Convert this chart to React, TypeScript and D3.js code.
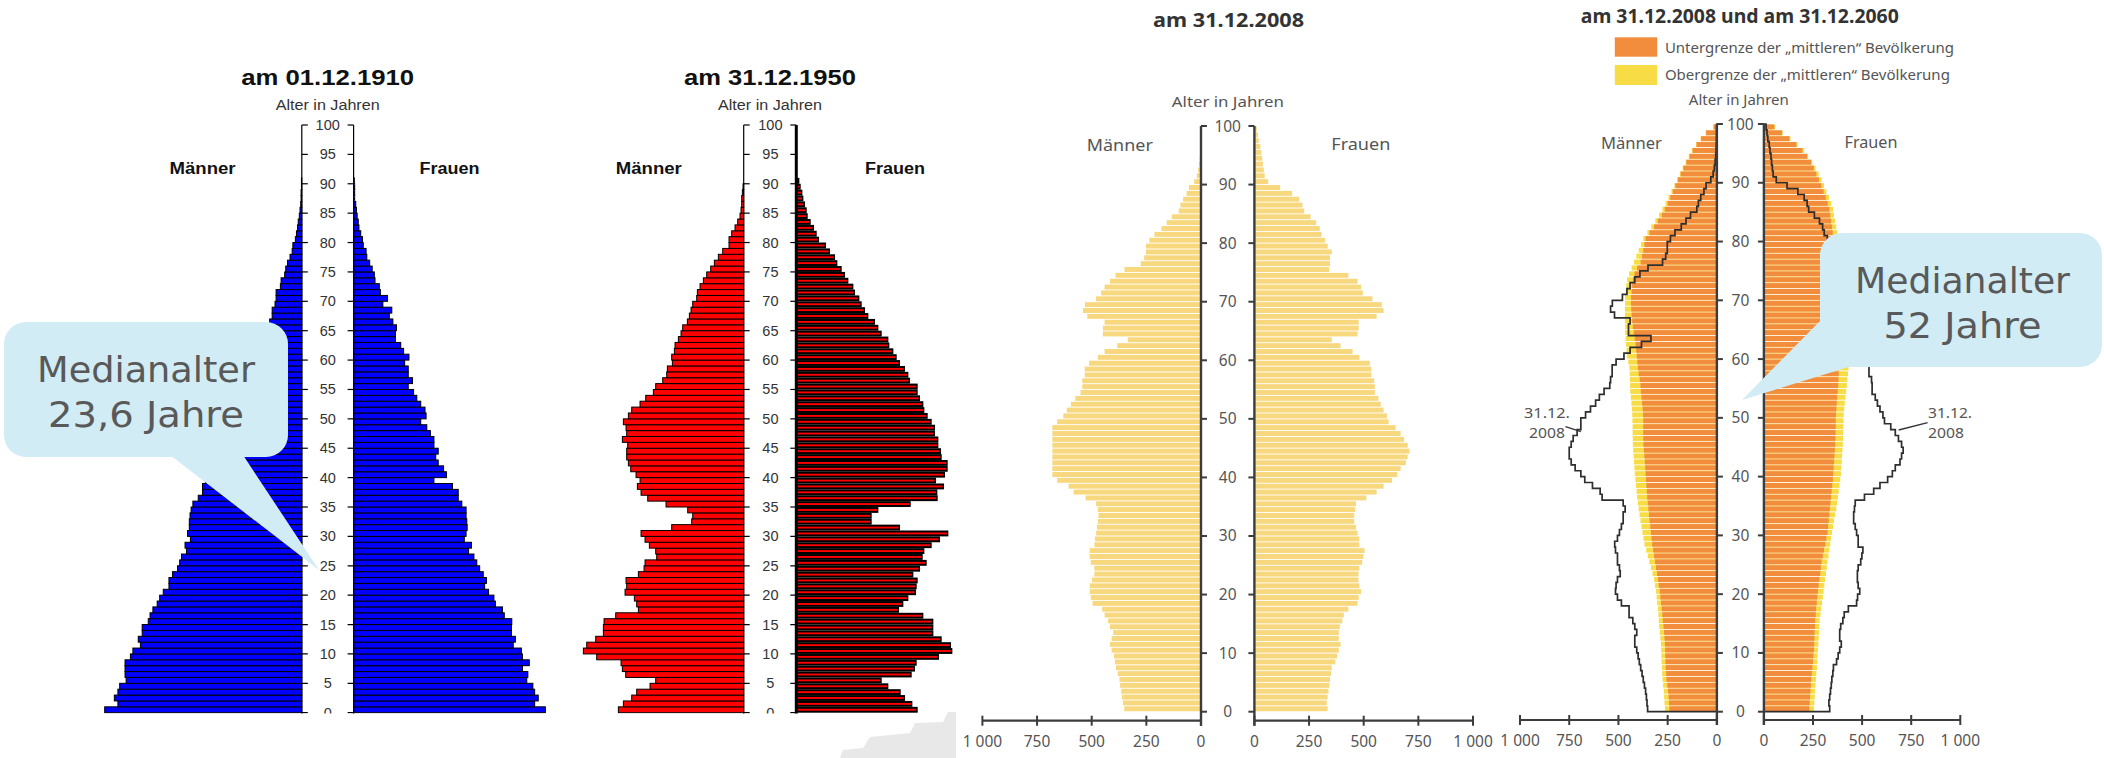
import React from "react";
import * as d3 from "d3";

// ---- data: population by single year of age (index = age) ----
// 1910 / 1950: relative widths (no x axis in the original)
const m1910 = [552,515,525,515,510,492,495,495,495,480,473,452,458,447,447,430,425,417,405,398,388,372,372,362,348,342,337,323,327,312,320,315,315,313,310,305,290,278,278,270,262,255,250,245,238,232,225,218,212,205,198,190,182,175,168,160,153,146,140,133,127,120,113,107,100,95,90,83,83,75,72,72,60,58,48,45,40,33,27,25,18,15,12,10,7,5,3,2,2,1,1];
const f1910 = [537,507,517,507,502,485,488,473,492,473,470,447,453,442,442,443,422,417,397,393,378,367,372,363,353,345,337,322,330,310,315,318,317,315,315,303,293,293,277,225,260,252,237,230,237,225,225,215,205,188,203,200,188,177,168,153,165,153,153,143,155,140,132,117,117,120,110,100,107,82,95,75,72,60,58,52,45,37,35,27,25,20,15,13,10,8,6,3,3,3,2];
const m1950 = [376,361,336,321,281,264,354,364,368,441,481,471,444,421,421,419,384,316,321,328,356,351,353,316,299,296,261,264,283,296,308,216,156,153,168,233,288,308,319,311,323,339,346,351,351,348,364,351,353,361,346,336,311,294,271,264,243,231,229,214,216,208,206,196,188,183,169,163,158,153,141,139,131,121,111,99,88,76,63,44,44,36,26,18,11,8,6,6,4,2];
const f1950 = [366,350,328,315,278,258,348,358,363,430,470,466,438,413,413,413,383,310,323,338,361,363,366,353,373,393,381,386,408,433,458,313,228,228,248,345,426,425,445,421,448,456,456,438,436,428,428,418,418,408,396,386,383,373,366,366,343,338,328,313,303,293,281,278,258,248,238,218,208,198,191,178,173,158,148,138,125,118,103,91,70,63,55,45,36,33,28,23,20,15,11];
// 2008 (thousands)
const m2008 = [351,357,362,365,370,373,381,389,394,398,409,417,409,402,417,425,441,452,496,504,509,509,499,488,488,504,509,509,488,485,480,476,472,469,472,480,528,583,606,658,680,680,680,680,680,680,680,680,680,658,630,614,595,575,551,543,543,532,532,512,472,441,383,335,449,449,441,520,540,531,480,457,441,417,391,350,276,260,252,252,236,213,181,157,134,102,94,82,66,55,31,19,13,9,6,4,3,2,2,1];
const f2008 = [335,331,335,339,343,346,351,354,370,378,386,394,386,386,391,402,409,430,472,477,488,480,476,476,480,493,499,504,480,480,472,465,457,457,461,465,512,559,591,630,654,669,693,701,709,701,685,669,646,614,606,591,578,567,551,551,548,535,535,528,480,449,394,354,472,477,477,559,591,583,540,496,488,472,430,342,346,346,354,335,323,307,299,283,257,228,220,205,173,118,63,47,43,39,36,31,27,20,16,11];
const m2008line = [352,355,358,362,368,374,380,387,394,400,407,417,417,407,417,427,446,446,485,505,515,512,505,491,495,505,505,515,519,505,495,485,476,476,466,476,583,593,632,671,691,720,740,750,750,740,730,710,691,691,667,642,616,597,573,544,540,532,532,512,472,441,383,335,449,449,441,520,540,531,480,457,441,417,391,350,276,260,252,252,236,213,181,157,134,102,94,82,66,55,31,19,13,9,6,4,3,2,2,1];
// 2060 projection (thousands): lower / upper limit of "mittlere" Bevölkerung
const m2060lo = [241,243,245,248,252,256,258,260,261,262,263,264,266,268,271,274,277,280,284,287,290,295,299,304,309,314,319,324,329,332,335,338,342,345,348,351,354,356,358,360,362,364,366,368,371,373,374,374,374,374,375,377,380,383,386,388,392,397,401,404,407,410,413,417,422,427,430,433,435,436,436,433,430,427,418,405,387,380,374,368,362,342,319,300,280,265,250,237,224,211,198,184,170,155,139,123,103,80,55,16];
const m2060hi = [264,266,268,270,273,276,278,279,281,282,283,284,287,290,293,295,297,299,303,306,309,314,319,327,335,343,351,359,368,373,378,383,388,393,397,401,405,408,411,414,417,419,421,423,425,427,427,428,428,429,430,432,434,437,440,441,442,443,445,450,456,459,462,464,466,466,467,467,467,466,466,463,460,456,446,433,421,409,397,385,374,353,333,313,294,277,260,246,231,216,202,188,174,159,143,127,106,83,57,20];
const f2060lo = [231,233,235,237,239,241,244,247,250,252,255,256,257,258,260,261,264,266,269,272,275,279,283,287,290,294,300,306,312,318,324,327,330,333,336,339,342,345,348,351,353,355,357,359,361,363,364,365,366,366,367,369,371,373,376,378,380,381,382,384,386,389,392,395,398,401,404,406,408,410,411,412,412,411,409,405,400,393,384,368,353,350,347,342,338,333,325,315,304,292,280,267,254,241,220,196,165,130,92,53];
const f2060hi = [255,257,259,261,263,265,267,270,272,273,275,277,279,281,282,284,288,292,296,300,304,308,312,316,320,324,329,333,338,342,347,352,357,363,368,373,377,381,385,389,392,394,396,398,400,402,403,404,405,405,406,409,412,415,419,422,425,428,431,434,437,441,445,449,452,455,458,460,462,463,463,462,460,457,452,445,436,425,410,395,380,374,368,362,357,353,343,331,318,306,294,279,263,246,225,205,172,135,96,58];

const ageTicks5 = [0,5,10,15,20,25,30,35,40,45,50,55,60,65,70,75,80,85,90,95,100];
const ageTicks10 = [0,10,20,30,40,50,60,70,80,90,100];
const popTicks = [0,250,500,750,1000];
const popLabel = (v: number) => (v === 1000 ? "1 000" : String(v));

const FA = "'Liberation Sans', Arial, Helvetica, sans-serif";
const FB = "'Noto Sans', 'Open Sans', sans-serif";
const FC = "'DejaVu Sans', Verdana, sans-serif";

// scales
const y12 = d3.scaleLinear().domain([0, 100]).range([712.7, 125]);
const y3 = d3.scaleLinear().domain([0, 100]).range([711.7, 126]);
const y4 = d3.scaleLinear().domain([0, 100]).range([711.7, 124]);
const xL1 = d3.scaleLinear().domain([0, 1000]).range([301.8, 301.8 - 357.1]);
const xR1 = d3.scaleLinear().domain([0, 1000]).range([353.6, 353.6 + 357.1]);
const xL2 = d3.scaleLinear().domain([0, 1000]).range([743.7, 743.7 - 333.3]);
const xR2 = d3.scaleLinear().domain([0, 1000]).range([795.7, 795.7 + 333.3]);
const xL3 = d3.scaleLinear().domain([0, 1000]).range([1201, 982.4]);
const xR3 = d3.scaleLinear().domain([0, 1000]).range([1254.4, 1473]);
const xL4 = d3.scaleLinear().domain([0, 1000]).range([1716.9, 1520]);
const xR4 = d3.scaleLinear().domain([0, 1000]).range([1763.9, 1960.3]);

function stepPath(vals: number[], xs: d3.ScaleLinear<number, number>, ys: d3.ScaleLinear<number, number>) {
  const pts: [number, number][] = [[xs(0), ys(0)]];
  vals.forEach((v, i) => {
    pts.push([xs(v), ys(i)]);
    pts.push([xs(v), ys(i + 1)]);
  });
  pts.push([xs(0), ys(vals.length)]);
  return d3.line()(pts) || "";
}

function Bars({ vals, xs, ys, fill, stroke, sw, gap }: any) {
  return (
    <g>
      {vals.map((v: number, i: number) => {
        const x0 = xs(0), x1 = xs(v);
        const top = ys(i + 1), bot = ys(i);
        return (
          <rect key={i} x={Math.min(x0, x1)} y={top + gap / 2} width={Math.abs(x1 - x0)} height={bot - top - gap}
            fill={fill} stroke={stroke || "none"} strokeWidth={sw || 0} />
        );
      })}
    </g>
  );
}

function OldAxis({ xl, xr, cx, thickRight }: any) {
  return (
    <g>
      <line x1={xl} x2={xl} y1={y12(100)} y2={716} stroke="#000" strokeWidth={1.2} />
      <line x1={xr} x2={xr} y1={y12(100)} y2={716} stroke="#000" strokeWidth={thickRight ? 3 : 1.2} />
      {ageTicks5.map((a) => (
        <g key={a}>
          <line x1={xl} x2={xl + 6} y1={y12(a)} y2={y12(a)} stroke="#000" strokeWidth={1.2} />
          <line x1={xr - 6} x2={xr} y1={y12(a)} y2={y12(a)} stroke="#000" strokeWidth={1.2} />
          <text x={cx} y={y12(a) + 5} textAnchor="middle" fontFamily={FA} fontSize={14.5} fill="#333">{a}</text>
        </g>
      ))}
    </g>
  );
}

function NewAxis({ xl, xr, cx, ys, yAx, xsL, xsR }: any) {
  const col = "#3c3c3c";
  return (
    <g>
      <line x1={xl} x2={xl} y1={ys(100)} y2={yAx + 5} stroke={col} strokeWidth={2.4} />
      <line x1={xr} x2={xr} y1={ys(100)} y2={yAx + 5} stroke={col} strokeWidth={2.4} />
      {ageTicks10.map((a) => (
        <g key={a}>
          <line x1={xl} x2={xl + 6} y1={ys(a)} y2={ys(a)} stroke={col} strokeWidth={2} />
          <line x1={xr - 6} x2={xr} y1={ys(a)} y2={ys(a)} stroke={col} strokeWidth={2} />
          <text x={cx} y={ys(a) + 5.5} textAnchor="middle" fontFamily={FB} fontSize={15.5} fill="#555">{a}</text>
        </g>
      ))}
      <line x1={xsL(1000)} x2={xsL(0)} y1={yAx} y2={yAx} stroke={col} strokeWidth={2.2} />
      <line x1={xsR(0)} x2={xsR(1000)} y1={yAx} y2={yAx} stroke={col} strokeWidth={2.2} />
      {popTicks.map((v) => (
        <g key={v}>
          <line x1={xsL(v)} x2={xsL(v)} y1={yAx - 5} y2={yAx + 5} stroke={col} strokeWidth={2} />
          <line x1={xsR(v)} x2={xsR(v)} y1={yAx - 5} y2={yAx + 5} stroke={col} strokeWidth={2} />
          <text x={xsL(v)} y={yAx + 26} textAnchor="middle" fontFamily={FB} fontSize={15.5} fill="#555">{popLabel(v)}</text>
          <text x={xsR(v)} y={yAx + 26} textAnchor="middle" fontFamily={FB} fontSize={15.5} fill="#555">{popLabel(v)}</text>
        </g>
      ))}
    </g>
  );
}

function Callout({ box, tail, l1, l2, cx, b1, b2, w1, w2 }: any) {
  return (
    <g>
      <polygon points={tail.map((p: number[]) => p.join(",")).join(" ")} fill="#d1ecf5" />
      <rect x={box[0]} y={box[1]} width={box[2]} height={box[3]} rx={22} fill="#d1ecf5" />
      <text x={cx} y={b1} textAnchor="middle" fontFamily={FC} fontSize={36} fill="#595959" textLength={w1} lengthAdjust="spacingAndGlyphs">{l1}</text>
      <text x={cx} y={b2} textAnchor="middle" fontFamily={FC} fontSize={36} fill="#595959" textLength={w2} lengthAdjust="spacingAndGlyphs">{l2}</text>
    </g>
  );
}

export default function App() {
  const title = (x: number, y: number, t: string, w: number, fam: string, size: number, col: string) => (
    <text x={x} y={y} textAnchor="middle" fontFamily={fam} fontWeight="bold" fontSize={size} fill={col} textLength={w} lengthAdjust="spacingAndGlyphs">{t}</text>
  );
  const lbl = (x: number, y: number, t: string, w: number, fam: string, size: number, col: string, bold = false) => (
    <text x={x} y={y} textAnchor="middle" fontFamily={fam} fontWeight={bold ? "bold" : "normal"} fontSize={size} fill={col} textLength={w} lengthAdjust="spacingAndGlyphs">{t}</text>
  );

  return (
    <svg width={2104} height={758} style={{ position: "absolute", left: 0, top: 0, background: "#fff" }}>
      <defs>
        <clipPath id="clipOld"><rect x={0} y={0} width={1000} height={713.5} /></clipPath>
      </defs>
      <rect x={0} y={0} width={2104} height={758} fill="#fff" />

      {/* ---------- Panel 1: 1910 ---------- */}
      {title(327.7, 85, "am 01.12.1910", 173, FA, 22, "#111")}
      {lbl(327.7, 110, "Alter in Jahren", 104, FA, 14, "#333")}
      {lbl(202.6, 174, "Männer", 66, FA, 16, "#111", true)}
      {lbl(449.6, 174, "Frauen", 60, FA, 16, "#111", true)}
      <g clipPath="url(#clipOld)">
        <Bars vals={m1910} xs={xL1} ys={y12} fill="#0000ff" stroke="#000" sw={1} gap={0} />
        <Bars vals={f1910} xs={xR1} ys={y12} fill="#0000ff" stroke="#000" sw={1} gap={0} />
        <OldAxis xl={301.8} xr={353.6} cx={327.7} />
      </g>

      {/* ---------- Panel 2: 1950 ---------- */}
      {title(770, 85, "am 31.12.1950", 172, FA, 22, "#111")}
      {lbl(770, 110, "Alter in Jahren", 104, FA, 14, "#333")}
      {lbl(648.8, 174, "Männer", 66, FA, 16, "#111", true)}
      {lbl(895, 174, "Frauen", 60, FA, 16, "#111", true)}
      <g clipPath="url(#clipOld)">
        <Bars vals={m1950} xs={xL2} ys={y12} fill="#ff0000" stroke="#000" sw={1} gap={0} />
        <Bars vals={f1950} xs={xR2} ys={y12} fill="#000" gap={0} />
        {f1950.map((v, i) => {
          const w = xR2(v) - xR2(0) - 1.4;
          return w > 1 ? (
            <rect key={i} x={xR2(0) + 1.5} y={y12(i + 1) + 2} width={Math.max(0, w - 1.5)} height={y12(i) - y12(i + 1) - 4} fill="#ff0000" />
          ) : null;
        })}
        <OldAxis xl={743.7} xr={796.3} cx={770.4} thickRight />
      </g>
      <polygon points="840,758 843,750 863,748 870,737 910,733 915,723 943,722 948,712 956,712 956,758" fill="#e8e8e8" />

      {/* ---------- Panel 3: 2008 ---------- */}
      {title(1228.6, 27, "am 31.12.2008", 151, FB, 19, "#333")}
      {lbl(1227.8, 107, "Alter in Jahren", 112, FB, 15, "#555")}
      {lbl(1119.8, 151, "Männer", 66, FB, 17, "#555")}
      {lbl(1360.8, 150, "Frauen", 59, FB, 17, "#555")}
      <Bars vals={m2008} xs={xL3} ys={y3} fill="#f8d87f" gap={0.9} />
      <Bars vals={f2008} xs={xR3} ys={y3} fill="#f8d87f" gap={0.9} />
      <NewAxis xl={1201} xr={1254.4} cx={1227.7} ys={y3} yAx={720.7} xsL={xL3} xsR={xR3} />

      {/* ---------- Panel 4: 2008 & 2060 ---------- */}
      {title(1739.8, 23, "am 31.12.2008 und am 31.12.2060", 318, FB, 19, "#333")}
      <rect x={1614.8} y={37.3} width={42.4} height={19.4} fill="#f28d3e" />
      <rect x={1614.8} y={65} width={42.4} height={20} fill="#f7dc45" />
      <text x={1664.9} y={53} fontFamily={FB} fontSize={14} fill="#555" textLength={289} lengthAdjust="spacingAndGlyphs">Untergrenze der „mittleren“ Bevölkerung</text>
      <text x={1664.9} y={80} fontFamily={FB} fontSize={14} fill="#555" textLength={285} lengthAdjust="spacingAndGlyphs">Obergrenze der „mittleren“ Bevölkerung</text>
      {lbl(1738.8, 105, "Alter in Jahren", 100, FB, 14, "#555")}
      {lbl(1631.4, 149, "Männer", 61, FB, 16, "#555")}
      {lbl(1871, 148, "Frauen", 53, FB, 16, "#555")}
      <Bars vals={m2060hi} xs={xL4} ys={y4} fill="#f7dc45" gap={0.9} />
      <Bars vals={f2060hi} xs={xR4} ys={y4} fill="#f7dc45" gap={0.9} />
      <Bars vals={m2060lo} xs={xL4} ys={y4} fill="#f28d3e" gap={0.9} />
      <Bars vals={f2060lo} xs={xR4} ys={y4} fill="#f28d3e" gap={0.9} />
      <path d={stepPath(m2008line, xL4, y4)} fill="none" stroke="#2e2e2e" strokeWidth={1.7} />
      <path d={stepPath(f2008, xR4, y4)} fill="none" stroke="#2e2e2e" strokeWidth={1.7} />
      <NewAxis xl={1716.9} xr={1763.9} cx={1740.4} ys={y4} yAx={720} xsL={xL4} xsR={xR4} />
      {lbl(1547, 418, "31.12.", 46, FB, 14, "#555")}
      {lbl(1547, 438, "2008", 36, FB, 14, "#555")}
      <line x1={1565.5} y1={426.7} x2={1580.9} y2={431.7} stroke="#333" strokeWidth={1.3} />
      {lbl(1950, 418, "31.12.", 44, FB, 14, "#555")}
      {lbl(1946, 438, "2008", 36, FB, 14, "#555")}
      <line x1={1927.6} y1={422.7} x2={1898.7} y2={430} stroke="#333" strokeWidth={1.3} />

      {/* ---------- Callouts ---------- */}
      <Callout box={[4, 322, 284, 135]} tail={[[170, 455], [243, 455], [319, 570]]}
        l1="Medianalter" l2="23,6 Jahre" cx={146} b1={382} b2={427} w1={218} w2={196} />
      <Callout box={[1820, 233, 282, 134]} tail={[[1823, 318], [1852, 366], [1742, 400]]}
        l1="Medianalter" l2="52 Jahre" cx={1962.5} b1={293} b2={338} w1={215} w2={158} />
    </svg>
  );
}
